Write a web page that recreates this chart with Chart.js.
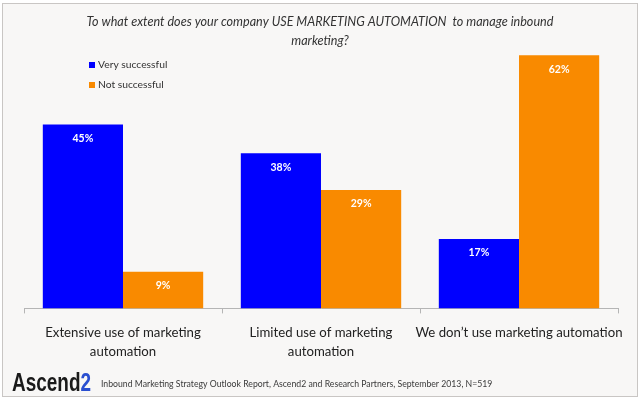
<!DOCTYPE html>
<html>
<head>
<meta charset="utf-8">
<script src="https://cdn.jsdelivr.net/npm/chart.js@4/dist/chart.umd.min.js"></script>
<style>
html,body{margin:0;padding:0;background:#fff;}
#wrap{position:relative;width:640px;height:399px;}
canvas{display:block;}
</style>
</head>
<body>
<div id="wrap"><canvas id="c" width="640" height="399"></canvas></div>
<script>
const categories = [
  ["Extensive use of marketing", "automation"],
  ["Limited use of marketing", "automation"],
  ["We don\u2019t use marketing automation"]
];
const seriesNames = ["Very successful", "Not successful"];
const verySuccessful = [45, 38, 17];
const notSuccessful = [9, 29, 62];
const titleLines = [
  "To what extent does your company USE MARKETING AUTOMATION  to manage inbound",
  "marketing?"
];
const sourceText = "Inbound Marketing Strategy Outlook Report, Ascend2 and Research Partners, September 2013, N=519";

const BLUE = "#0000FF";
const ORANGE = "#F98A00";
const FONT = "Lato, 'Open Sans', sans-serif";

const decor = {
  id: "decor",
  beforeDraw(chart) {
    const ctx = chart.ctx;
    ctx.save();
    ctx.fillStyle = "#ffffff";
    ctx.fillRect(0, 0, 640, 399);
    ctx.fillStyle = "#f8f7f6";
    ctx.fillRect(2.5, 3.5, 635, 393);
    ctx.strokeStyle = "#c9c6c4";
    ctx.lineWidth = 1;
    ctx.strokeRect(2.5, 3.5, 635, 393);
    ctx.restore();
  },
  afterDraw(chart) {
    const ctx = chart.ctx;
    ctx.save();
    // title
    ctx.fillStyle = "#333333";
    ctx.textAlign = "center";
    ctx.textBaseline = "middle";
    ctx.font = "italic 12.6px " + FONT;
    ctx.fillText(titleLines[0], 320, 22);
    ctx.fillText(titleLines[1], 320, 41);
    // legend
    const colors = [BLUE, ORANGE];
    ctx.textAlign = "left";
    ctx.font = "10.3px " + FONT;
    seriesNames.forEach((n, i) => {
      const y = 65 + i * 20;
      ctx.fillStyle = colors[i];
      ctx.fillRect(89, y - 3, 6, 6);
      ctx.fillStyle = "#333333";
      ctx.fillText(n, 98, y);
    });
    // data labels
    ctx.textAlign = "center";
    ctx.font = "bold 10.5px " + FONT;
    ctx.fillStyle = "#ffffff";
    chart.data.datasets.forEach((ds, di) => {
      chart.getDatasetMeta(di).data.forEach((bar, i) => {
        ctx.fillText(ds.data[i] + "%", bar.x, bar.y + 14);
      });
    });
    // footer logo
    ctx.textAlign = "left";
    ctx.textBaseline = "alphabetic";
    ctx.font = "bold 25px 'Liberation Sans', sans-serif";
    const wA = ctx.measureText("Ascend").width;
    const w2 = ctx.measureText("2").width;
    const sx = 79 / (wA + w2);
    ctx.save();
    ctx.translate(12, 391);
    ctx.scale(sx, 1);
    ctx.fillStyle = "#1a1a1a";
    ctx.fillText("Ascend", 0, 0);
    ctx.fillStyle = "#2a4fd0";
    ctx.fillText("2", wA, 0);
    ctx.restore();
    ctx.fillStyle = "#3a3a3a";
    ctx.font = "8.7px " + FONT;
    ctx.fillText(sourceText, 101, 387);
    ctx.restore();
  }
};

new Chart(document.getElementById("c"), {
  type: "bar",
  data: {
    labels: categories,
    datasets: [
      { label: seriesNames[0], data: verySuccessful, backgroundColor: BLUE },
      { label: seriesNames[1], data: notSuccessful, backgroundColor: ORANGE }
    ]
  },
  options: {
    responsive: false,
    animation: false,
    devicePixelRatio: 1,
    layout: { padding: { left: 24, right: 22, top: 47, bottom: 28 } },
    plugins: { legend: { display: false }, tooltip: { enabled: false }, title: { display: false } },
    datasets: { bar: { categoryPercentage: 0.81, barPercentage: 1.0 } },
    scales: {
      x: {
        grid: { display: true, drawOnChartArea: false, drawTicks: true, tickLength: 5, color: "#b5b5b5", offset: true },
        border: { display: true, color: "#b5b5b5" },
        ticks: { color: "#222222", font: { family: FONT, size: 13.2, lineHeight: 1.5 }, padding: 9, maxRotation: 0, autoSkip: false }
      },
      y: { display: false, min: 0, max: 64 }
    }
  },
  plugins: [decor]
});
</script>
</body>
</html>
